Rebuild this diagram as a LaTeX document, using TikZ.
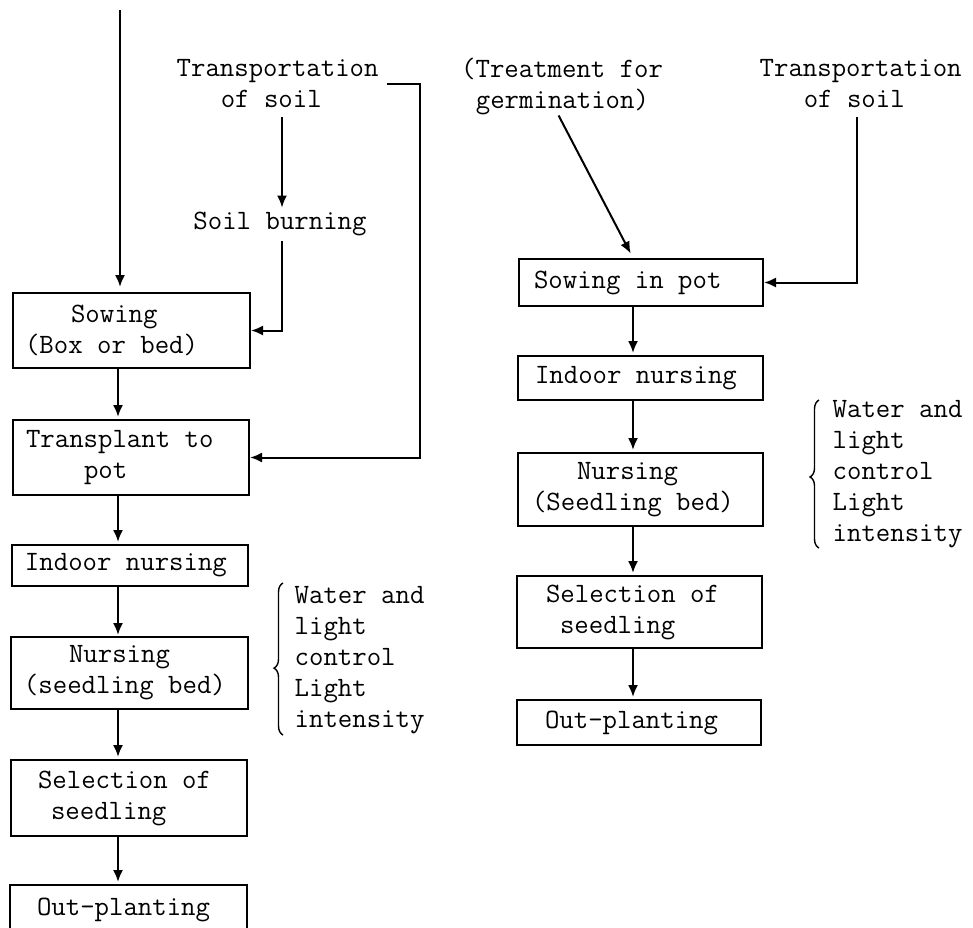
\documentclass[tikz,border=0pt]{standalone}
\usepackage{fontspec}
\usetikzlibrary{arrows.meta,decorations.pathreplacing}
\newcommand\twfont{\ttfamily\addfontfeatures{FakeBold=2.5}\fontsize{28}{31}\selectfont}
\begin{document}
\begin{tikzpicture}[x=1pt,y=-1pt,
  bx/.style={draw, line width=2pt, inner sep=0pt, align=flush left, font=\twfont},
  txt/.style={inner sep=0pt, align=left, font=\twfont},
  arr/.style={line width=2pt, -{Latex[length=12pt,width=10pt]}},
  brc/.style={line width=1.4pt, decorate},
]
\clip (0,0) rectangle (973,927);
\fill[white] (0,0) rectangle (973,927);
% helper coordinates
\coordinate (top) at (120,10);
\coordinate (cL) at (118,0);
\coordinate (cR) at (633,0);
\coordinate (c282) at (282,0);
\coordinate (c420) at (420,0);
\coordinate (c857) at (857,0);
% left column
\node[bx, minimum width=237, text width=237, minimum height=75] (sow) at (131.5,330.5) {\hspace*{58pt}Sowing\\\hspace*{12pt}(Box or bed)};
\node[bx, minimum width=236, text width=236, minimum height=75] (tr) at (131,457.5) {\hspace*{13pt}Transplant to\\\hspace*{71pt}pot};
\node[bx, minimum width=236, text width=236, minimum height=41] (in1) at (130,565.5) {\hspace*{13pt}Indoor nursing};
\node[bx, minimum width=237, text width=237, minimum height=72] (nu1) at (129.5,673) {\hspace*{58pt}Nursing\\\hspace*{13pt}(seedling bed)};
\node[bx, minimum width=236, text width=236, minimum height=76] (se1) at (129,798) {\hspace*{27pt}Selection of\\\hspace*{40pt}seedling};
\node[bx, minimum width=237, text width=237, minimum height=50] (op1) at (128.5,910) {\hspace*{27pt}Out-planting};
% right column
\node[bx, minimum width=244, text width=244, minimum height=47] (sp) at (641,282.5) {\hspace*{15pt}Sowing in pot};
\node[bx, minimum width=245, text width=245, minimum height=44] (in2) at (640.5,378) {\hspace*{17pt}Indoor nursing};
\node[bx, minimum width=245, text width=245, minimum height=73] (nu2) at (640.5,489.5) {\hspace*{59pt}Nursing\\\hspace*{14pt}(Seedling bed)};
\node[bx, minimum width=245, text width=245, minimum height=72] (se2) at (639.5,612) {\hspace*{29pt}Selection of\\\hspace*{43pt}seedling};
\node[bx, minimum width=244, text width=244, minimum height=45] (op2) at (639,722.5) {\hspace*{28pt}Out-planting};
% free texts
\node[txt, anchor=west] (tsL) at (176.5,84) {Transportation\\\hspace*{44.1pt}of soil};
\node[txt] (burn) at (280,223.7) {Soil burning};
\node[txt, anchor=west] (treat) at (461,86) {(Treatment for\\\hspace*{14.7pt}germination)};
\node[txt, anchor=west] (tsR) at (759.5,84) {Transportation\\\hspace*{44.1pt}of soil};
\node[txt, anchor=west] (br1) at (294.5,660.5) {Water and\\light\\control\\Light\\intensity};
\node[txt, anchor=west] (br2) at (832.5,473.7) {Water and\\light\\control\\Light\\intensity};
% braces
\draw[brc, decoration={brace, amplitude=9pt, aspect=0.44}] (283,735) -- (283,583);
\draw[brc, decoration={brace, amplitude=9pt, aspect=0.48}] (819,548) -- (819,400);
% left connectors
\draw[arr, shorten >=5pt] (top) -- (sow.north -| top);
\draw[arr, shorten >=2pt] (sow.south -| cL) -- (tr.north -| cL);
\draw[arr, shorten >=2pt] (tr.south -| cL) -- (in1.north -| cL);
\draw[arr, shorten >=1pt] (in1.south -| cL) -- (nu1.north -| cL);
\draw[arr, shorten >=2pt] (nu1.south -| cL) -- (se1.north -| cL);
\draw[arr, shorten >=2pt] (se1.south -| cL) -- (op1.north -| cL);
\draw[arr, shorten <=9pt, shorten >=4pt] (tsL.south -| c282) -- (burn.north -| c282);
\draw[arr, shorten <=5pt] (burn.south -| c282) |- (sow.east);
\draw[arr] ([xshift=8pt]tsL.east) -| (tr.east -| c420) -- (tr.east);
% right connectors
\draw[arr, shorten <=1pt, shorten >=5pt] ([xshift=-4pt]treat.south) -- (sp.north -| cR);
\draw[arr, shorten <=9pt] (tsR.south -| c857) |- (sp.east);
\draw[arr, shorten >=2pt] (sp.south -| cR) -- (in2.north -| cR);
\draw[arr, shorten >=2pt] (in2.south -| cR) -- (nu2.north -| cR);
\draw[arr, shorten >=2pt] (nu2.south -| cR) -- (se2.north -| cR);
\draw[arr, shorten >=2pt] (se2.south -| cR) -- (op2.north -| cR);
\end{tikzpicture}
\end{document}
